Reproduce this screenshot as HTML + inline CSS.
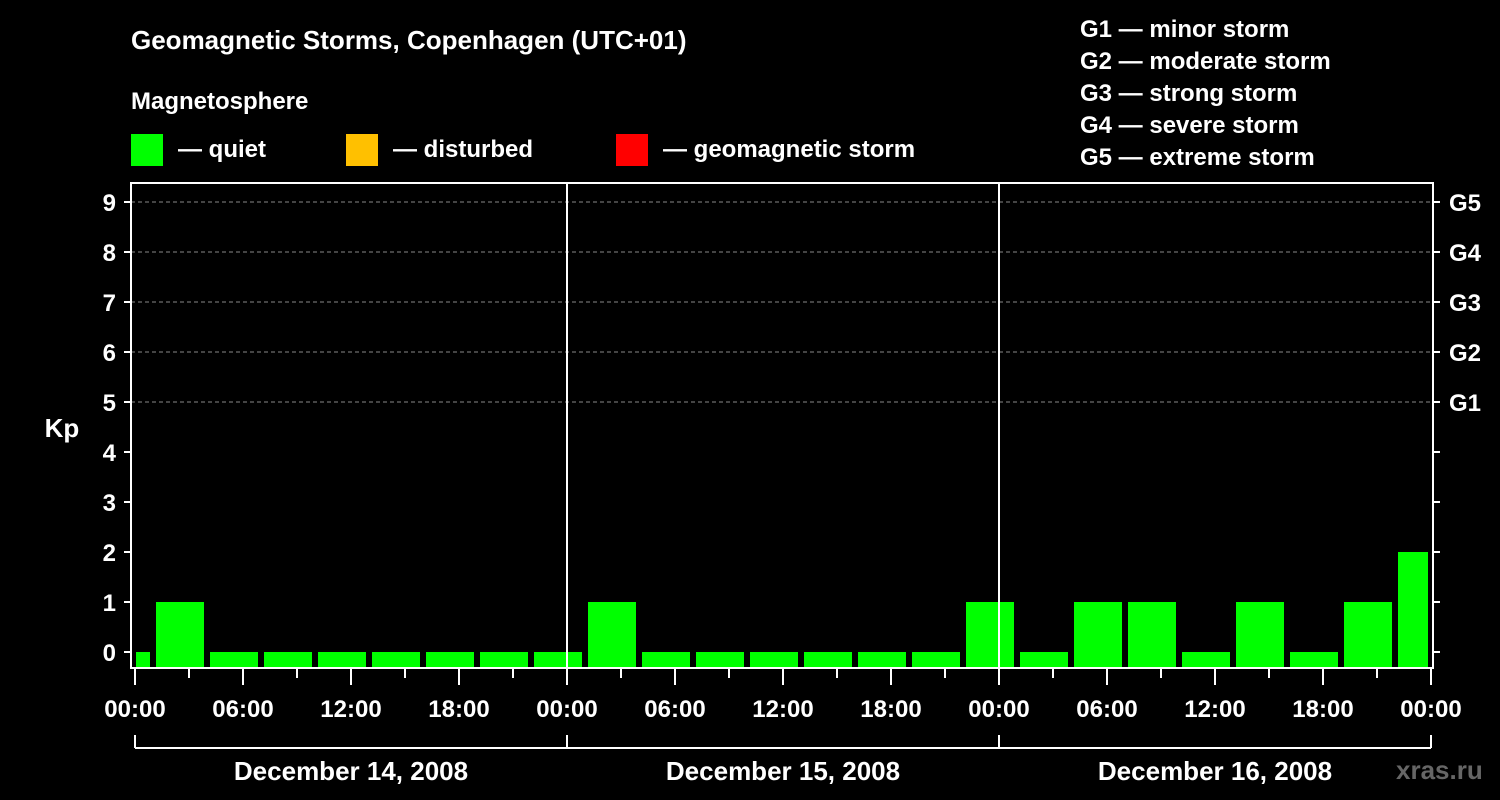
<!DOCTYPE html>
<html><head><meta charset="utf-8"><style>
html,body{margin:0;padding:0;background:#000;}
svg{display:block;font-family:"Liberation Sans",sans-serif;font-weight:bold;}
</style></head><body>
<svg width="1500" height="800" xmlns="http://www.w3.org/2000/svg">
<rect width="1500" height="800" fill="#000"/>
<text x="131" y="49" fill="#fff" font-size="26">Geomagnetic Storms, Copenhagen (UTC+01)</text>
<text x="131" y="109" fill="#fff" font-size="24">Magnetosphere</text>
<g><rect x="131" y="134" width="32" height="32" fill="#00ff00"/><text x="178" y="157" fill="#fff" font-size="24">— quiet</text></g>
<g><rect x="346" y="134" width="32" height="32" fill="#ffc000"/><text x="393" y="157" fill="#fff" font-size="24">— disturbed</text></g>
<g><rect x="616" y="134" width="32" height="32" fill="#ff0000"/><text x="663" y="157" fill="#fff" font-size="24">— geomagnetic storm</text></g>
<g fill="#fff" font-size="24">
<text x="1080" y="37">G1 — minor storm</text>
<text x="1080" y="69">G2 — moderate storm</text>
<text x="1080" y="101">G3 — strong storm</text>
<text x="1080" y="133">G4 — severe storm</text>
<text x="1080" y="165">G5 — extreme storm</text>
</g>
<text x="62" y="437" fill="#fff" font-size="26" text-anchor="middle">Kp</text>
<text x="1396" y="779" fill="#666" font-size="26">xras.ru</text>
<g id="grid"></g>
<g id="bars"></g>
<g id="axes"></g>
</svg>
<script>
const kpValues=[0,1,0,0,0,0,0,0,0,1,0,0,0,0,0,0,1,0,1,1,0,1,0,1,2];
const yTicks=[0,1,2,3,4,5,6,7,8,9];
const gLabels=["G1","G2","G3","G4","G5"];
const hourLabels=["00:00","06:00","12:00","18:00"];
const dayLabels=["December 14, 2008","December 15, 2008","December 16, 2008"];
const NS="http://www.w3.org/2000/svg";
const X0=135,PXH=18,L=131,R=1433,T=183,B=668;
const yS=v=>652-v*50;
const xS=h=>X0+h*PXH;
function mk(tag,attrs,parent,txt){const e=document.createElementNS(NS,tag);for(const k in attrs)e.setAttribute(k,attrs[k]);if(txt!=null)e.textContent=txt;document.getElementById(parent).appendChild(e);return e;}
yTicks.forEach(v=>{if(v>=5){const e=mk('line',{x1:L,x2:R,y1:yS(v),y2:yS(v),stroke:'#888','stroke-dasharray':'4,3','stroke-width':1},'grid');

}});
kpValues.forEach((v,i)=>{const c=xS(-0.5+3*i);let x1=Math.max(c-24,136),x2=Math.min(c+24,1428);const yt=yS(v);
const e=mk('rect',{x:x1,y:yt,width:x2-x1,height:667-yt,fill:'#00ff00'},'bars');

});
mk('rect',{x:L,y:T,width:R-L,height:B-T,fill:'none',stroke:'#fff','stroke-width':2},'axes');
[1,2].forEach(d=>{mk('line',{x1:xS(24*d),x2:xS(24*d),y1:T,y2:B,stroke:'#fff','stroke-width':2},'axes');});
yTicks.forEach(v=>{const y=yS(v);
mk('line',{x1:L-7,x2:L,y1:y,y2:y,stroke:'#fff','stroke-width':2},'axes');
mk('line',{x1:R,x2:R+7,y1:y,y2:y,stroke:'#fff','stroke-width':2},'axes');
const t=mk('text',{x:116,y:y+9,fill:'#fff','font-size':24,'text-anchor':'end'},'axes',String(v));


if(v>=5){const g=mk('text',{x:1449,y:y+9,fill:'#fff','font-size':24},'axes',gLabels[v-5]);

}});
for(let h=0;h<=72;h+=3){const major=h%6===0;mk('line',{x1:xS(h),x2:xS(h),y1:B,y2:major?685:678,stroke:'#fff','stroke-width':2},'axes');
if(major){const t=mk('text',{x:xS(h),y:717,fill:'#fff','font-size':24,'text-anchor':'middle'},'axes',hourLabels[(h/6)%4]);

}}
mk('line',{x1:xS(0),x2:xS(72),y1:748,y2:748,stroke:'#fff','stroke-width':2},'axes');
for(let d=0;d<=3;d++)mk('line',{x1:xS(24*d),x2:xS(24*d),y1:735,y2:748,stroke:'#fff','stroke-width':2},'axes');
dayLabels.forEach((s,d)=>{const t=mk('text',{x:xS(24*d+12),y:780,fill:'#fff','font-size':26,'text-anchor':'middle'},'axes',s);

});
</script>
</body></html>
